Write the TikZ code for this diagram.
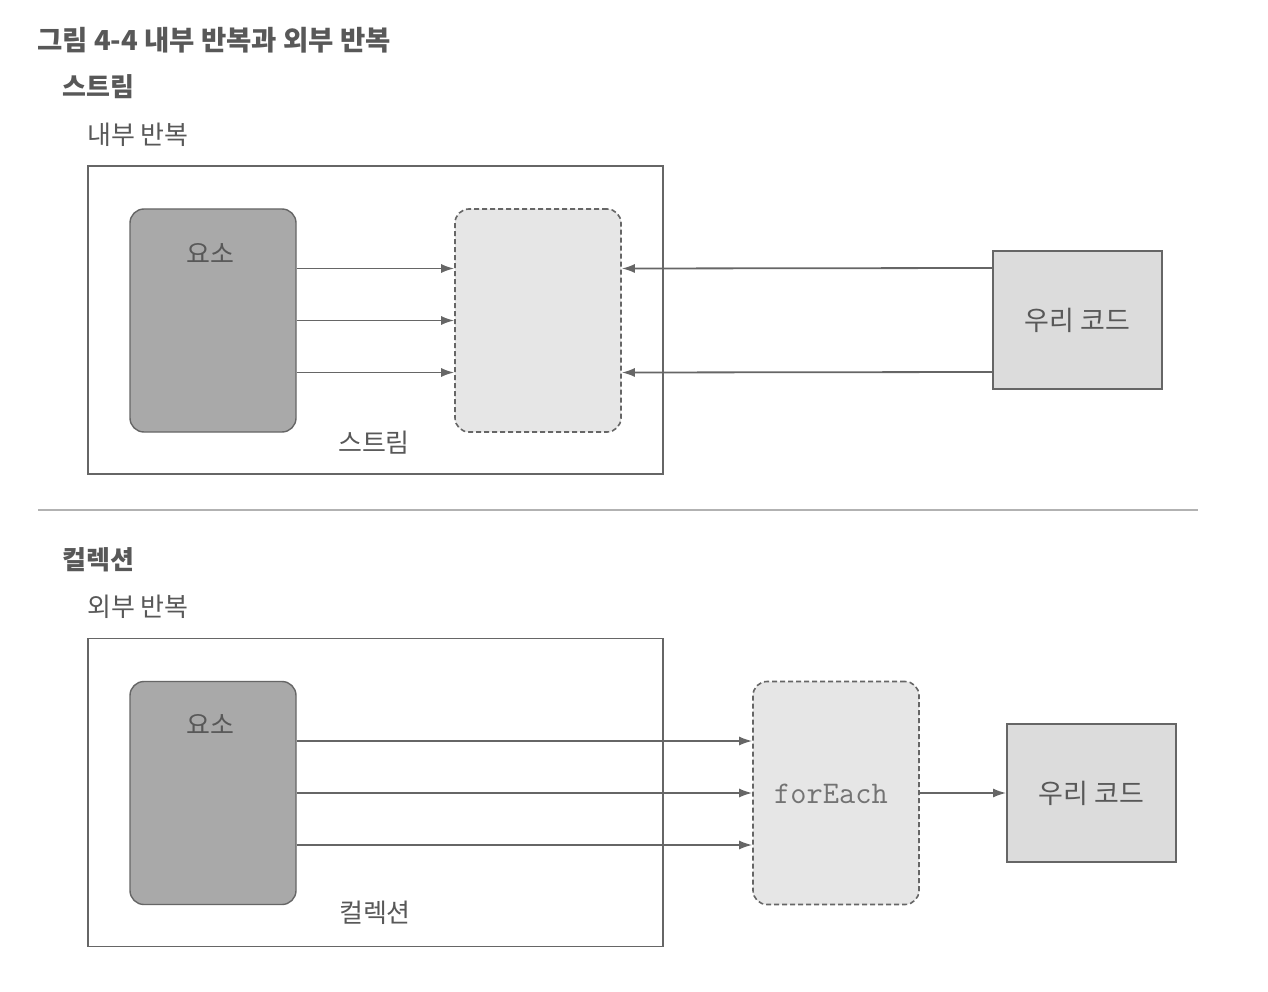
\documentclass[tikz,border=0pt]{standalone}
\usepackage{fontspec}
\setmainfont{Noto Sans CJK KR}
\usetikzlibrary{arrows.meta}
\definecolor{txt}{HTML}{585858}
\definecolor{edge}{HTML}{666666}
\definecolor{darkfill}{HTML}{A9A9A9}
\definecolor{lightfill}{HTML}{E6E6E6}
\definecolor{codefill}{HTML}{DCDCDC}
\tikzset{
  frame/.style={draw=edge, line width=1.5pt, fill=white, minimum width=575pt, minimum height=308pt, inner sep=0pt},
  elembox/.style={draw=edge, line width=1.4pt, fill=darkfill, rounded corners=14pt, minimum width=166pt, minimum height=223pt, inner sep=0pt},
  dashbox/.style={draw=edge, line width=1.6pt, dash pattern=on 5pt off 3pt, fill=lightfill, rounded corners=14pt, minimum width=166pt, minimum height=223pt, inner sep=0pt},
  codebox/.style={draw=edge, line width=1.7pt, fill=codefill, minimum width=169pt, minimum height=138pt, inner sep=0pt, text=txt, font=\fontsize{27}{30}\selectfont},
  lbl/.style={text=txt, font=\fontsize{26}{30}\selectfont, inner sep=0pt},
  head/.style={text=txt, font=\bfseries\fontsize{26}{30}\selectfont, anchor=west, inner sep=0pt},
  sub/.style={text=txt, font=\fontsize{26}{30}\selectfont, anchor=west, inner sep=0pt},
  arr/.style={draw=edge, line width=1.8pt, -{Latex[length=13pt,width=9pt]}},
}
\begin{document}
\begin{tikzpicture}[x=1pt, y=-1pt]
\useasboundingbox (0,0) rectangle (1268,992);
% title and headers
\node[head, font=\bfseries\fontsize{27.5}{32}\selectfont] (title) at (37,40) {그림 4-4 내부 반복과 외부 반복};
\node[head] (h1) at (62,87) {스트림};
\node[sub] (s1) at (87,135) {내부 반복};
% top section
\node[frame] (frame1) at (375.5,320) {};
\node[elembox] (elem1) at (213,320.5) {};
\node[lbl] (elem1t) at (210,253) {요소};
\node[dashbox] (dash1) at (538,320.5) {};
\node[codebox] (code1) at (1077.5,320) {우리 코드};
\node[lbl] (frame1t) at (374,443) {스트림};
\foreach \d in {-52,0,52}
  \draw[arr] ([yshift=\d]elem1.east) -- ([yshift=\d]dash1.west);
\foreach \d in {-52,52}
  \draw[arr] ([yshift=\d]code1.west) -- ([yshift=\d]dash1.east);
% separator
\coordinate (sepL) at (38,510);
\coordinate (sepR) at (1198,510);
\draw[color=black!30, line width=2pt] (sepL) -- (sepR);
% bottom section
\node[head] (h2) at (62,560) {컬렉션};
\node[sub] (s2) at (87,607) {외부 반복};
\node[frame] (frame2) at (375.5,792.5) {};
\node[elembox] (elem2) at (213,793) {};
\node[lbl] (elem2t) at (210,724) {요소};
\node[dashbox] (dash2) at (836,793) {};
\node[text=black!55, font=\ttfamily\fontsize{31.5}{34}\selectfont, inner sep=0pt] (dash2t) at (831,794) {forEach};
\node[codebox] (code2) at (1091.5,793) {우리 코드};
\node[lbl] (frame2t) at (375,913) {컬렉션};
\foreach \d in {-52,0,52}
  \draw[arr] ([yshift=\d]elem2.east) -- ([yshift=\d]dash2.west);
\draw[arr] (dash2.east) -- (code2.west);
\end{tikzpicture}
\end{document}
